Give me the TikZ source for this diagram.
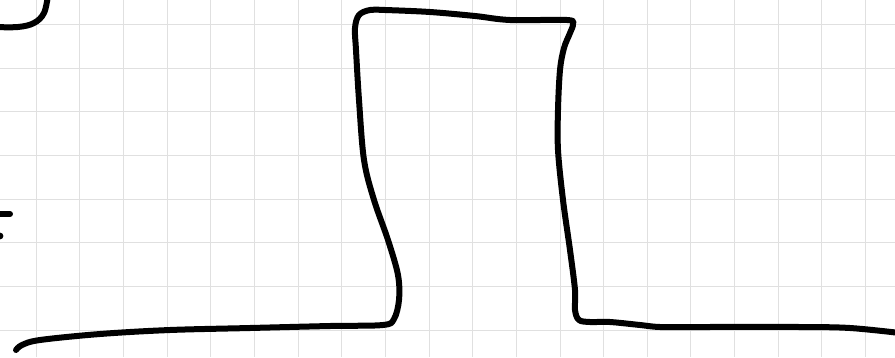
\documentclass[tikz,border=0pt]{standalone}
\begin{document}
\begin{tikzpicture}[x=1pt,y=-1pt,
  gridline/.style={draw=black!12, line width=1pt},
  ink/.style={draw=black, line width=6pt, line cap=round, line join=round}]
\useasboundingbox (0,0) rectangle (895,357);
\fill[white] (0,0) rectangle (895,357);
\clip (0,0) rectangle (895,357);
\foreach \i in {0,...,19} {\draw[gridline] (36.2+43.65*\i,0) -- (36.2+43.65*\i,357);}
\foreach \j in {0,...,7} {\draw[gridline] (0,24.4+43.7*\j) -- (895,24.4+43.7*\j);}
% top-left arc
\draw[ink] plot[smooth, tension=0.6] coordinates {(-5,27) (18,27) (34,23) (44,13) (48,-5)};
% left marks
\draw[ink] (-3,214) -- (10,214);
\fill (0,236) circle (3.4);
% main outline
\draw[ink] plot[smooth, tension=0.55] coordinates {
 (16,350) (22,345) (40,340) (100,334) (170,330) (250,328) (330,326) (383,325)
 (394,319) (399,300) (398,275) (388,240) (374,200) (364,160) (359,100) (356,50)
 (355,28) (359,15) (370,10) (385,10) (430,12) (475,16) (510,20) (567,20)
 (573,24) (570,33) (564,48) (560,70) (558,110) (558,150) (563,200) (570,250)
 (575,290) (575,310) (579,320) (590,322) (610,322) (640,325) (660,327) (700,327)
 (800,327) (850,328) (900,333)};
\end{tikzpicture}
\end{document}
